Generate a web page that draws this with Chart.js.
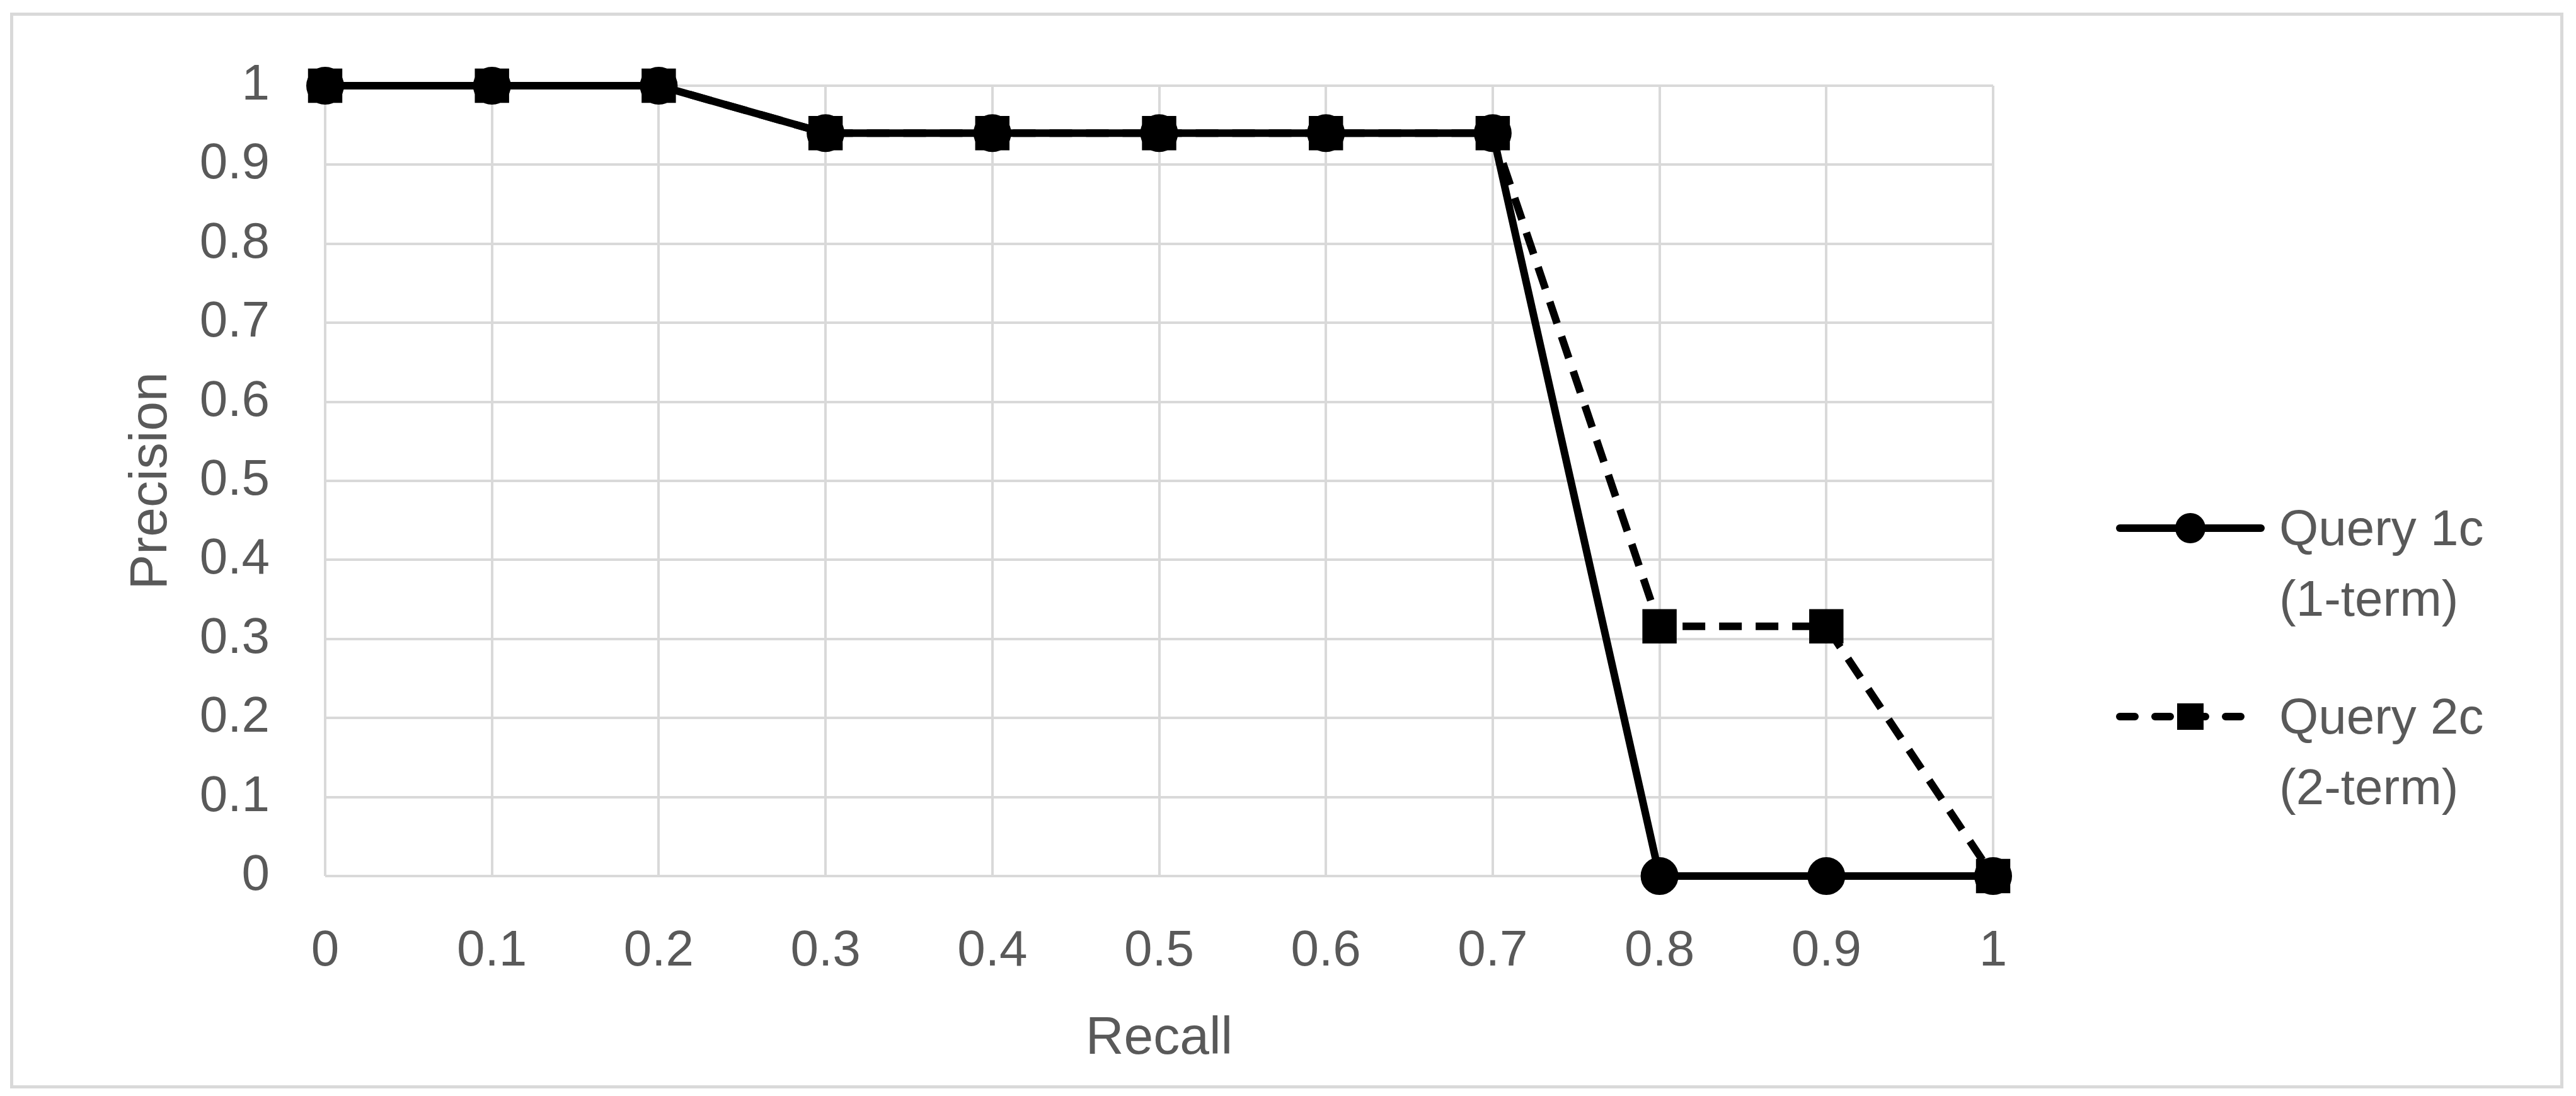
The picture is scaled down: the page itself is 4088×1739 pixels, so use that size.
<!DOCTYPE html>
<html>
<head>
<meta charset="utf-8">
<script src="https://cdn.jsdelivr.net/npm/chart.js@4"></script>
<style>
  html, body { margin: 0; padding: 0; background: #fff; }
  #wrap { position: relative; width: 4088px; height: 1739px; }
  #frame { position: absolute; left: 16px; top: 20px; right: 20px; bottom: 12px; border: 5px solid #d9d9d9; box-sizing: border-box; }
  canvas { position: absolute; left: 0; top: 0; }
  .leg { position: absolute; left: 3358px; font-family: "Liberation Sans", sans-serif; font-size: 80px; line-height: 112px; color: #595959; }
  .leg svg { position: absolute; left: 0; top: 26px; }
  .leg div { margin-left: 259px; white-space: nowrap; }
</style>
</head>
<body>
<div id="wrap">
  <div id="frame"></div>
  <canvas id="chart" width="4088" height="1739"></canvas>
  <div class="leg" style="top:782px">
    <svg width="240" height="60"><line x1="6" y1="30" x2="230" y2="30" stroke="#000" stroke-width="12" stroke-linecap="round"/><circle cx="118" cy="30" r="24" fill="#000"/></svg>
    <div>Query 1c<br>(1-term)</div>
  </div>
  <div class="leg" style="top:1081px">
    <svg width="240" height="60"><line x1="6" y1="30" x2="230" y2="30" stroke="#000" stroke-width="12" stroke-linecap="round" stroke-dasharray="24,32"/><rect x="97" y="9" width="42" height="42" fill="#000"/></svg>
    <div>Query 2c<br>(2-term)</div>
  </div>
</div>
<script>
// Data
const recall = [0, 0.1, 0.2, 0.3, 0.4, 0.5, 0.6, 0.7, 0.8, 0.9, 1];
const query1c = [1, 1, 1, 0.94, 0.94, 0.94, 0.94, 0.94, 0, 0, 0];
const query2c = [1, 1, 1, 0.94, 0.94, 0.94, 0.94, 0.94, 0.316, 0.316, 0];
const seriesNames = ['Query 1c (1-term)', 'Query 2c (2-term)'];

const textColor = '#595959';
const gridColor = '#d9d9d9';
const fontFamily = '"Liberation Sans", sans-serif';

function toPoints(values) {
    return recall.map((r, i) => ({ x: r, y: values[i] }));
}

const ctx = document.getElementById('chart').getContext('2d');

new Chart(ctx, {
    type: 'line',
    data: {
        datasets: [
            {
                label: seriesNames[1],
                data: toPoints(query2c),
                borderColor: '#000',
                backgroundColor: '#000',
                borderWidth: 12,
                borderDash: [36, 22],
                pointStyle: 'rect',
                pointRadius: 30,
                tension: 0,
                clip: false
            },
            {
                label: seriesNames[0],
                data: toPoints(query1c),
                borderColor: '#000',
                backgroundColor: '#000',
                borderWidth: 12,
                pointStyle: 'circle',
                pointRadius: 24,
                tension: 0,
                clip: false
            }
        ]
    },
    options: {
        responsive: false,
        animation: false,
        layout: { padding: { left: 0, top: 63, right: 925, bottom: 0 } },
        plugins: { legend: { display: false }, tooltip: { enabled: false } },
        scales: {
            x: {
                type: 'linear',
                min: 0,
                max: 1,
                afterFit: scale => { scale.height = 349; },
                afterBuildTicks: scale => { scale.ticks = recall.map(v => ({ value: v })); },
                grid: { color: gridColor, lineWidth: 4, drawTicks: false },
                border: { display: false },
                ticks: {
                    color: textColor,
                    font: { family: fontFamily, size: 80 },
                    padding: 72,
                    maxRotation: 0,
                    callback: v => String(Math.round(v * 10) / 10)
                },
                title: {
                    display: true,
                    text: 'Recall',
                    color: textColor,
                    font: { family: fontFamily, size: 84 },
                    padding: { top: 0, bottom: 40 }
                }
            },
            y: {
                min: 0,
                max: 1,
                afterFit: scale => { scale.width = 516; },
                ticks: {
                    stepSize: 0.1,
                    color: textColor,
                    font: { family: fontFamily, size: 80 },
                    padding: 88,
                    callback: v => String(Math.round(v * 10) / 10)
                },
                grid: { color: gridColor, lineWidth: 4, drawTicks: false },
                border: { display: false },
                title: {
                    display: true,
                    text: 'Precision',
                    color: textColor,
                    font: { family: fontFamily, size: 84 },
                    padding: { top: 190, bottom: 0 }
                }
            }
        }
    }
});
</script>
</body>
</html>
